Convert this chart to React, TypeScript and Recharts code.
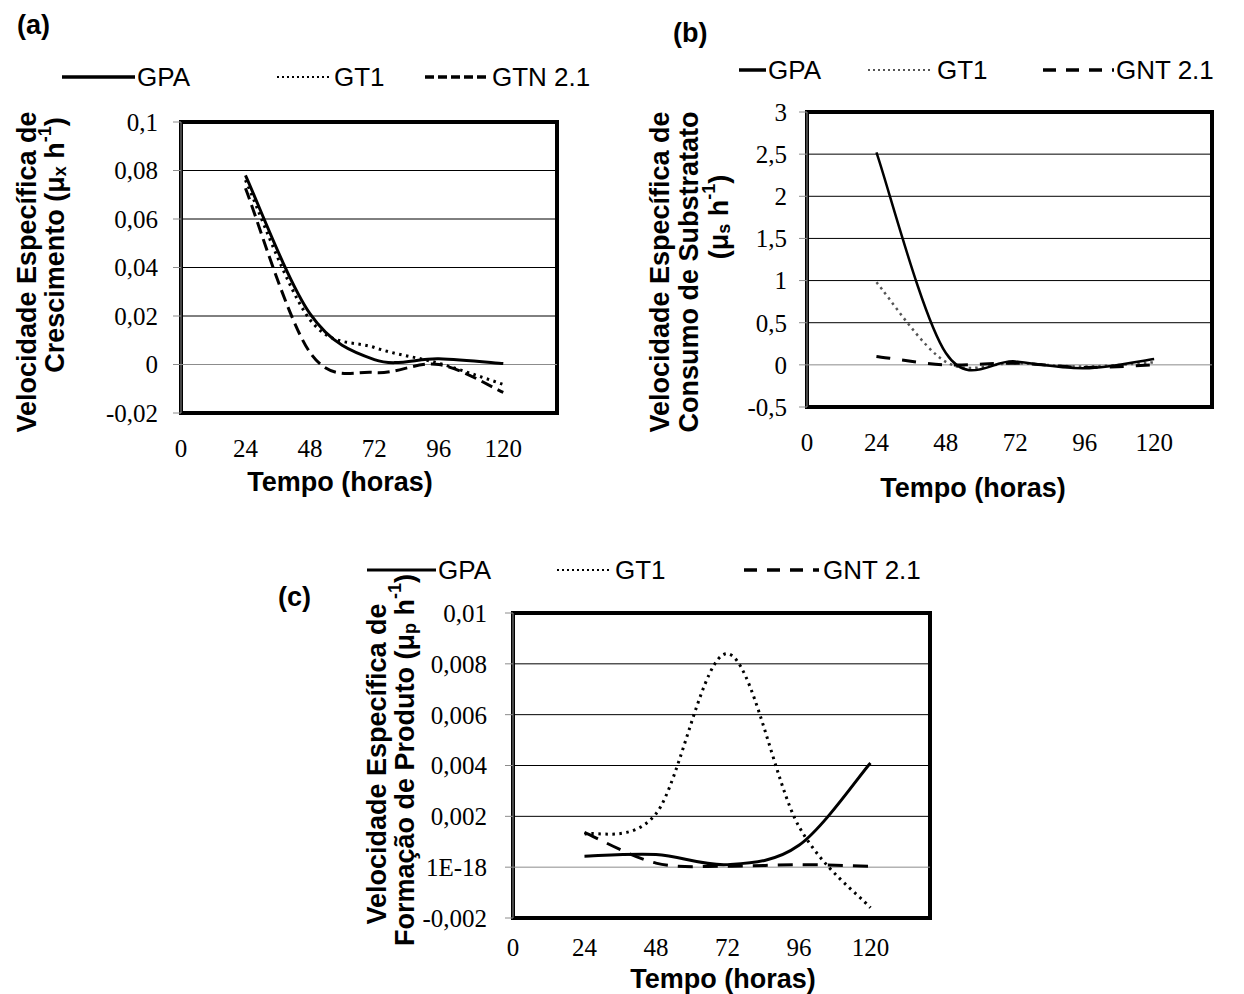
import { LineChart, Line, XAxis, YAxis, ReferenceLine, ReferenceArea } from 'recharts';

const hours = [24, 48, 72, 96, 120];
const xTicks = [0, 24, 48, 72, 96, 120];

// (a) crescimento
const gpaA = [0.078, 0.021, 0.002, 0.0024, 0.0004];
const gt1A = [0.076, 0.0185, 0.007, 0.0005, -0.0082];
const gtnA = [0.0727, 0.005, -0.0033, 0.0, -0.0115];
const yTicksA = [-0.02, 0, 0.02, 0.04, 0.06, 0.08, 0.1];
const yLabelsA = ['-0,02', '0', '0,02', '0,04', '0,06', '0,08', '0,1'];

// (b) consumo de substrato
const gpaB = [2.52, 0.14, 0.04, -0.04, 0.07];
const gt1B = [0.98, 0.035, 0.02, -0.02, 0.03];
const gntB = [0.1, 0.0, 0.02, -0.03, 0.0];
const yTicksB = [-0.5, 0, 0.5, 1, 1.5, 2, 2.5, 3];
const yLabelsB = ['-0,5', '0', '0,5', '1', '1,5', '2', '2,5', '3'];

// (c) formação de produto
const gpaC = [0.00043, 0.0005, 0.0001, 0.00086, 0.0041];
const gt1C = [0.0013, 0.0021, 0.0084, 0.0016, -0.0016];
const gntC = [0.00137, 0.00016, 0.00004, 0.0001, 0.00003];
const yTicksC = [-0.002, 0, 0.002, 0.004, 0.006, 0.008, 0.01];
const yLabelsC = ['-0,002', '1E-18', '0,002', '0,004', '0,006', '0,008', '0,01'];

// Excel-like smoothed line (catmull-rom as bezier)
function excelCurve(context: any) {
  let pts: number[][] = [];
  return {
    areaStart() {},
    areaEnd() {},
    lineStart() {
      pts = [];
    },
    point(x: number, y: number) {
      pts.push([+x, +y]);
    },
    lineEnd() {
      const n = pts.length;
      if (!n) return;
      context.moveTo(pts[0][0], pts[0][1]);
      for (let i = 0; i < n - 1; i++) {
        const p0 = pts[Math.max(i - 1, 0)];
        const p1 = pts[i];
        const p2 = pts[i + 1];
        const p3 = pts[Math.min(i + 2, n - 1)];
        context.bezierCurveTo(
          p1[0] + (p2[0] - p0[0]) / 6,
          p1[1] + (p2[1] - p0[1]) / 6,
          p2[0] - (p3[0] - p1[0]) / 6,
          p2[1] - (p3[1] - p1[1]) / 6,
          p2[0],
          p2[1]
        );
      }
    },
  };
}

const serif = 'Liberation Serif';
const sans = 'Liberation Sans';

interface PanelProps {
  left: number;
  top: number;
  width: number;
  height: number;
  margin: { top: number; right: number; left: number; bottom: number };
  s1: number[];
  s2: number[];
  s3: number[];
  yTicks: number[];
  yLabels: string[];
  tickGap: number;
  xGap: number;
  dotted: { stroke: string; width: number; dash: string };
  dashed: string;
  solidWidth: number;
}

function Panel({ left, top, width, height, margin, s1, s2, s3, yTicks, yLabels, tickGap, xGap, dotted, dashed, solidWidth }: PanelProps) {
  const data = hours.map((h, i) => ({ h, s1: s1[i], s2: s2[i], s3: s3[i] }));
  const yMin = yTicks[0];
  const yMax = yTicks[yTicks.length - 1];
  return (
    <div style={{ position: 'absolute', left, top }}>
      <LineChart width={width} height={height} data={data} margin={margin}>
        {yTicks.map((v) => (
          <ReferenceLine key={v} y={v} stroke={v === 0 ? '#8c8c8c' : '#000'} strokeWidth={1} />
        ))}
        <XAxis
          dataKey="h"
          type="number"
          domain={[0, 140]}
          ticks={xTicks}
          axisLine={false}
          tickLine={false}
          tickSize={0}
          tickMargin={xGap}
          height={60}
          tick={{ fontFamily: serif, fontSize: 25, fill: '#000' }}
        />
        <YAxis
          type="number"
          domain={[yMin, yMax]}
          ticks={yTicks}
          interval={0}
          width={80}
          axisLine={{ stroke: '#8c8c8c' }}
          tickLine={{ stroke: '#8c8c8c' }}
          tickSize={8}
          tickMargin={tickGap}
          tickFormatter={(v: number) => yLabels[yTicks.indexOf(v)] ?? String(v)}
          tick={{ fontFamily: serif, fontSize: 25, fill: '#000' }}
        />
        <Line dataKey="s2" type={excelCurve as any} stroke={dotted.stroke} strokeWidth={dotted.width} strokeDasharray={dotted.dash} dot={false} isAnimationActive={false} />
        <Line dataKey="s3" type={excelCurve as any} stroke="#000" strokeWidth={3} strokeDasharray={dashed} dot={false} isAnimationActive={false} />
        <Line dataKey="s1" type={excelCurve as any} stroke="#000" strokeWidth={solidWidth} dot={false} isAnimationActive={false} />
        <ReferenceArea x1={0} x2={140} y1={yMin} y2={yMax} fill="none" stroke="#000" strokeWidth={4} />
      </LineChart>
    </div>
  );
}

function LegendRow({ y, items }: { y: number; items: { x1: number; x2: number; tx: number; label: string; dash?: string; w: number; stroke: string }[] }) {
  return (
    <g>
      {items.map((it) => (
        <g key={it.label}>
          <line x1={it.x1} x2={it.x2} y1={y} y2={y} stroke={it.stroke} strokeWidth={it.w} strokeDasharray={it.dash} />
          <text x={it.tx} y={y} dominantBaseline="central" fontFamily={sans} fontSize={26} fill="#000">
            {it.label}
          </text>
        </g>
      ))}
    </g>
  );
}

function VText({ x, y, children }: { x: number; y: number; children: any }) {
  return (
    <text
      transform={`translate(${x},${y}) rotate(-90)`}
      textAnchor="middle"
      dominantBaseline="central"
      fontFamily={sans}
      fontWeight="bold"
      fontSize={27}
      fill="#000"
    >
      {children}
    </text>
  );
}

export default function App() {
  return (
    <div style={{ position: 'absolute', left: 0, top: 0, width: 1244, height: 994, background: '#fff' }}>
      <Panel
        left={0}
        top={0}
        width={600}
        height={500}
        margin={{ top: 122, right: 43, left: 101, bottom: 27 }}
        s1={gpaA}
        s2={gt1A}
        s3={gtnA}
        yTicks={yTicksA}
        yLabels={yLabelsA}
        tickGap={15}
        xGap={26}
        dotted={{ stroke: '#000', width: 3, dash: '2.5 4.5' }}
        dashed="12 6"
        solidWidth={3}
      />
      <Panel
        left={620}
        top={0}
        width={620}
        height={500}
        margin={{ top: 112, right: 28, left: 107, bottom: 33 }}
        s1={gpaB}
        s2={gt1B}
        s3={gntB}
        yTicks={yTicksB}
        yLabels={yLabelsB}
        tickGap={12}
        xGap={26}
        dotted={{ stroke: '#555', width: 2.5, dash: '2.5 4' }}
        dashed="14 12"
        solidWidth={2.5}
      />
      <Panel
        left={400}
        top={540}
        width={560}
        height={454}
        margin={{ top: 73, right: 30, left: 33, bottom: 16 }}
        s1={gpaC}
        s2={gt1C}
        s3={gntC}
        yTicks={yTicksC}
        yLabels={yLabelsC}
        tickGap={18}
        xGap={20}
        dotted={{ stroke: '#000', width: 3, dash: '2.5 4.5' }}
        dashed="15 10"
        solidWidth={3}
      />
      <svg width={1244} height={994} style={{ position: 'absolute', left: 0, top: 0, pointerEvents: 'none' }}>
        <text x={17} y={25} dominantBaseline="central" fontFamily={sans} fontWeight="bold" fontSize={27}>(a)</text>
        <text x={673} y={33} dominantBaseline="central" fontFamily={sans} fontWeight="bold" fontSize={27}>(b)</text>
        <text x={278} y={597} dominantBaseline="central" fontFamily={sans} fontWeight="bold" fontSize={27}>(c)</text>

        <LegendRow
          y={77}
          items={[
            { x1: 62, x2: 135, tx: 137, label: 'GPA', w: 3.5, stroke: '#000' },
            { x1: 277, x2: 329, tx: 334, label: 'GT1', w: 2, dash: '2 3', stroke: '#000' },
            { x1: 425, x2: 490, tx: 492, label: 'GTN 2.1', w: 3.5, dash: '9 4', stroke: '#000' },
          ]}
        />
        <LegendRow
          y={70}
          items={[
            { x1: 739, x2: 766, tx: 768, label: 'GPA', w: 3.5, stroke: '#000' },
            { x1: 868, x2: 932, tx: 937, label: 'GT1', w: 2, dash: '2 3', stroke: '#555' },
            { x1: 1043, x2: 1114, tx: 1116, label: 'GNT 2.1', w: 3.5, dash: '13 10', stroke: '#000' },
          ]}
        />
        <LegendRow
          y={570}
          items={[
            { x1: 367, x2: 436, tx: 438, label: 'GPA', w: 3, stroke: '#000' },
            { x1: 557, x2: 610, tx: 615, label: 'GT1', w: 2, dash: '2 3', stroke: '#000' },
            { x1: 744, x2: 819, tx: 823, label: 'GNT 2.1', w: 3.5, dash: '13 10', stroke: '#000' },
          ]}
        />

        <VText x={27} y={272}>Velocidade Específica de</VText>
        <VText x={55} y={245}>
          Crescimento (μ<tspan dy={5} fontSize={18}>x</tspan>
          <tspan dy={-5}> h</tspan>
          <tspan dy={-10} fontSize={18}>-1</tspan>
          <tspan dy={10}>)</tspan>
        </VText>
        <VText x={660} y={272}>Velocidade Específica de</VText>
        <VText x={689} y={272}>Consumo de Substratato</VText>
        <VText x={719} y={217}>
          (μ<tspan dy={5} fontSize={18}>s</tspan>
          <tspan dy={-5}> h</tspan>
          <tspan dy={-10} fontSize={18}>-1</tspan>
          <tspan dy={10}>)</tspan>
        </VText>
        <VText x={377} y={764}>Velocidade Específica de</VText>
        <VText x={405} y={760}>
          Formação de Produto (μ<tspan dy={5} fontSize={18}>p</tspan>
          <tspan dy={-5}> h</tspan>
          <tspan dy={-10} fontSize={18}>-1</tspan>
          <tspan dy={10}>)</tspan>
        </VText>

        <text x={340} y={482} textAnchor="middle" dominantBaseline="central" fontFamily={sans} fontWeight="bold" fontSize={27}>Tempo (horas)</text>
        <text x={973} y={488} textAnchor="middle" dominantBaseline="central" fontFamily={sans} fontWeight="bold" fontSize={27}>Tempo (horas)</text>
        <text x={723} y={979} textAnchor="middle" dominantBaseline="central" fontFamily={sans} fontWeight="bold" fontSize={27}>Tempo (horas)</text>
      </svg>
    </div>
  );
}
